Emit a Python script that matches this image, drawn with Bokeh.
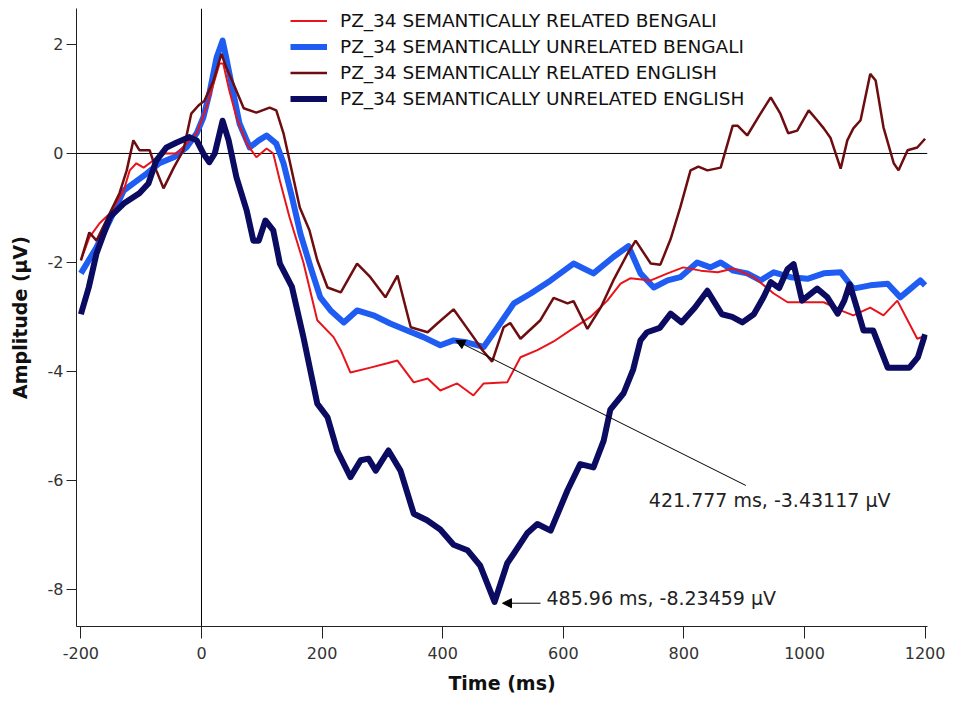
from bokeh.plotting import figure
from bokeh.models import Span, Arrow, NormalHead, Label, Legend, LegendItem
from bokeh.embed import file_html
from bokeh.resources import INLINE

# ---------------- data ----------------
series_names = [
    "PZ_34 SEMANTICALLY RELATED BENGALI",
    "PZ_34 SEMANTICALLY UNRELATED BENGALI",
    "PZ_34 SEMANTICALLY RELATED ENGLISH",
    "PZ_34 SEMANTICALLY UNRELATED ENGLISH",
]

t_rel_bn = [-200, -186, -169, -152, -129, -119, -108, -96, -80, -63, -41, -25, -8, 8, 20, 30, 36, 46, 58, 75,
            91, 108, 119, 130, 146, 169, 192, 219, 231, 247, 280, 308, 325, 352, 375, 396, 424, 451, 468, 507,
            529, 557, 584, 615, 645, 673, 695, 711, 745, 773, 799, 828, 856, 882, 916, 949, 972, 1005, 1032,
            1060, 1081, 1109, 1131, 1154, 1171, 1187, 1200]
v_rel_bn = [-1.96, -1.54, -1.28, -1.10, -0.68, -0.31, -0.18, -0.26, -0.13, 0.00, 0.00, 0.18, 0.37, 0.84, 1.28,
            1.65, 1.65, 1.16, 0.66, 0.18, -0.07, 0.09, 0.00, -0.50, -1.17, -2.00, -3.06, -3.37, -3.61, -4.02,
            -3.93, -3.85, -3.80, -4.20, -4.13, -4.35, -4.22, -4.44, -4.22, -4.20, -3.74, -3.61, -3.45, -3.22,
            -3.00, -2.70, -2.39, -2.29, -2.33, -2.20, -2.09, -2.15, -2.18, -2.11, -2.27, -2.57, -2.73, -2.73,
            -2.73, -2.88, -2.97, -2.83, -2.97, -2.70, -3.06, -3.40, -3.35]

t_unrel_bn = [-200, -174, -152, -129, -113, -91, -70, -46, -25, -8, 3, 13, 25, 35, 41, 53, 63, 80, 95, 108, 124,
              136, 150, 164, 181, 197, 214, 236, 258, 285, 313, 341, 368, 396, 418, 441, 468, 491, 518, 546,
              579, 617, 650, 683, 708, 728, 750, 773, 794, 822, 844, 861, 882, 905, 927, 949, 977, 1005, 1032,
              1060, 1081, 1109, 1138, 1159, 1176, 1192, 1200]
v_unrel_bn = [-2.20, -1.72, -1.23, -0.68, -0.55, -0.37, -0.18, -0.07, 0.11, 0.37, 0.66, 1.10, 1.76, 2.07, 1.76,
              1.10, 0.55, 0.11, 0.24, 0.33, 0.18, -0.18, -0.80, -1.47, -2.09, -2.64, -2.88, -3.10, -2.88, -2.97,
              -3.12, -3.25, -3.37, -3.52, -3.43, -3.47, -3.55, -3.19, -2.75, -2.57, -2.33, -2.02, -2.20, -1.90,
              -1.70, -2.20, -2.46, -2.33, -2.27, -2.00, -2.09, -2.00, -2.15, -2.20, -2.33, -2.18, -2.27, -2.30,
              -2.20, -2.18, -2.48, -2.42, -2.39, -2.64, -2.48, -2.33, -2.42]

t_rel_en = [-200, -186, -174, -158, -136, -124, -113, -103, -86, -75, -63, -46, -30, -17, -5, 5, 20, 33, 41, 53,
            70, 91, 113, 124, 136, 146, 163, 179, 192, 209, 231, 258, 280, 305, 325, 347, 375, 391, 418, 451,
            466, 482, 501, 512, 529, 562, 584, 607, 617, 640, 662, 683, 706, 720, 745, 761, 778, 794, 811, 824,
            839, 861, 881, 889, 905, 927, 944, 960, 973, 988, 1007, 1021, 1032, 1043, 1060, 1071, 1081, 1093,
            1109, 1118, 1131, 1148, 1156, 1171, 1187, 1200]
v_rel_en = [-1.96, -1.45, -1.60, -1.23, -0.73, -0.31, 0.24, 0.06, 0.06, -0.31, -0.64, -0.26, 0.06, 0.73, 0.88,
            0.97, 1.34, 1.83, 1.58, 1.28, 0.83, 0.75, 0.84, 0.79, 0.37, -0.13, -0.99, -1.41, -1.96, -2.46, -2.55,
            -2.02, -2.27, -2.64, -2.24, -3.19, -3.28, -3.12, -2.86, -3.37, -3.61, -3.82, -3.19, -3.11, -3.40,
            -3.06, -2.65, -2.75, -2.71, -3.22, -2.83, -2.33, -1.85, -1.60, -2.02, -2.04, -1.57, -0.99, -0.31,
            -0.24, -0.31, -0.26, 0.51, 0.51, 0.33, 0.73, 1.03, 0.73, 0.37, 0.42, 0.79, 0.61, 0.46, 0.29, -0.28,
            0.24, 0.46, 0.61, 1.46, 1.34, 0.48, -0.18, -0.31, 0.06, 0.11, 0.27]

t_unrel_en = [-200, -187, -174, -152, -129, -103, -88, -75, -58, -41, -20, -8, 3, 13, 22, 35, 45, 58, 75, 86, 95,
              106, 119, 130, 150, 169, 192, 209, 225, 247, 264, 277, 289, 310, 330, 352, 374, 396, 418, 441, 462,
              486, 507, 518, 540, 557, 579, 607, 628, 650, 667, 678, 700, 716, 728, 739, 760, 778, 796, 818, 839,
              849, 863, 880, 897, 916, 932, 944, 958, 972, 982, 996, 1021, 1038, 1055, 1066, 1075, 1086, 1098,
              1114, 1138, 1174, 1188, 1200]
v_unrel_en = [-2.95, -2.46, -1.83, -1.17, -0.92, -0.73, -0.55, -0.13, 0.11, 0.20, 0.30, 0.24, 0.00, -0.16, 0.00,
              0.60, 0.24, -0.44, -1.05, -1.60, -1.60, -1.23, -1.41, -2.02, -2.45, -3.37, -4.59, -4.84, -5.45,
              -5.94, -5.63, -5.60, -5.82, -5.45, -5.82, -6.61, -6.73, -6.90, -7.18, -7.28, -7.56, -8.23, -7.52,
              -7.34, -6.97, -6.80, -6.92, -6.18, -5.70, -5.76, -5.27, -4.70, -4.40, -3.96, -3.43, -3.28, -3.20,
              -2.94, -3.10, -2.83, -2.52, -2.70, -2.95, -3.00, -3.10, -2.95, -2.64, -2.36, -2.47, -2.12, -2.03,
              -2.70, -2.48, -2.64, -2.94, -2.70, -2.40, -2.80, -3.25, -3.25, -3.93, -3.93, -3.74, -3.32]

# cursor read-outs shown on the chart
cursor_a = (421.777, -3.43117)
cursor_b = (485.96, -8.23459)

x_ticks = [-200, 0, 200, 400, 600, 800, 1000, 1200]
y_ticks = [-8, -6, -4, -2, 0, 2]

# ---------------- figure ----------------
X0, X1 = -207.3, 1204.0
Y0, Y1 = -8.68, 2.66
W, H = 955, 708
BL, BR, BT, BB = 76, 28, 8, 82

p = figure(width=W, height=H, x_range=(X0, X1), y_range=(Y0, Y1),
           output_backend="svg", toolbar_location=None,
           min_border_left=BL, min_border_right=BR, min_border_top=BT, min_border_bottom=BB)
p.outline_line_color = None
p.grid.visible = False
p.background_fill_color = "white"
p.border_fill_color = "white"

fw = W - BL - BR
fh = H - BT - BB
sx = fw / (X1 - X0)
sy = fh / (Y1 - Y0)

p.xaxis.ticker = x_ticks
p.yaxis.ticker = y_ticks
p.xaxis.major_label_overrides = {t: str(t) for t in x_ticks}
p.yaxis.major_label_overrides = {t: str(t) for t in y_ticks}
p.xaxis.axis_label = "Time (ms)"
p.yaxis.axis_label = "Amplitude (\u03bcV)"
for ax in (p.xaxis[0], p.yaxis[0]):
    ax.axis_line_color = "#222222"
    ax.major_tick_line_color = "#222222"
    ax.minor_tick_line_color = None
    ax.major_tick_in = 0
    ax.major_label_text_font = "DejaVu Sans"
    ax.major_label_text_font_size = "16px"
    ax.major_label_text_color = "#333333"
    ax.axis_label_text_font = "DejaVu Sans"
    ax.axis_label_text_font_size = "19px"
    ax.axis_label_text_font_style = "bold"
    ax.axis_label_text_color = "#111111"
p.xaxis.major_tick_out = 12
p.xaxis.major_label_standoff = 8
p.xaxis.axis_label_standoff = 10
p.yaxis.major_tick_out = 10
p.yaxis.major_label_standoff = 3
p.yaxis.axis_label_standoff = 14

p.add_layout(Span(location=0, dimension="width", line_color="black", line_width=1, level="underlay"))
p.add_layout(Span(location=0, dimension="height", line_color="black", line_width=1, level="underlay"))

r_ub = p.line(t_unrel_bn, v_unrel_bn, line_color="#1f5cf2", line_width=6, line_join="round")
r_rb = p.line(t_rel_bn, v_rel_bn, line_color="#e8141c", line_width=2)
r_re = p.line(t_rel_en, v_rel_en, line_color="#6e0d10", line_width=2.5)
r_ue = p.line(t_unrel_en, v_unrel_en, line_color="#0b0b62", line_width=6, line_join="round")

legend = Legend(items=[LegendItem(label=series_names[0], renderers=[r_rb]),
                       LegendItem(label=series_names[1], renderers=[r_ub]),
                       LegendItem(label=series_names[2], renderers=[r_re]),
                       LegendItem(label=series_names[3], renderers=[r_ue])],
                location=(214, 517))
legend.glyph_width = 37
legend.glyph_height = 21
legend.label_height = 21
legend.label_standoff = 13
legend.spacing = 5
legend.padding = 0
legend.margin = 0
legend.border_line_color = None
legend.background_fill_alpha = 0
legend.label_text_font = "DejaVu Sans"
legend.label_text_font_size = "18.5px"
legend.label_text_color = "#111111"
p.add_layout(legend)

# cursor A annotation
ax_, ay_ = cursor_a
p.add_layout(Arrow(end=NormalHead(size=9, fill_color="black", line_color="black"),
                   x_start=ax_ + 290 / sx, y_start=ay_ - 145 / sy, x_end=ax_, y_end=ay_,
                   line_color="black", line_width=1))
p.add_layout(Label(x=ax_, y=ay_, x_offset=193, y_offset=-160,
                   text=f"{cursor_a[0]} ms, {cursor_a[1]} \u03bcV",
                   text_font="DejaVu Sans", text_font_size="19px", text_color="#222222",
                   text_baseline="middle", text_align="left"))

# cursor B annotation
bx_, by_ = cursor_b
p.add_layout(Arrow(end=NormalHead(size=9, fill_color="black", line_color="black"),
                   x_start=bx_ + 46 / sx, y_start=by_ - 1 / sy, x_end=bx_ + 8 / sx, y_end=by_ - 1 / sy,
                   line_color="black", line_width=1))
p.add_layout(Label(x=bx_, y=by_, x_offset=52, y_offset=4,
                   text=f"{cursor_b[0]} ms, {cursor_b[1]} \u03bcV",
                   text_font="DejaVu Sans", text_font_size="19px", text_color="#222222",
                   text_baseline="middle", text_align="left"))

open("out.html", "w").write(file_html(p, INLINE))
